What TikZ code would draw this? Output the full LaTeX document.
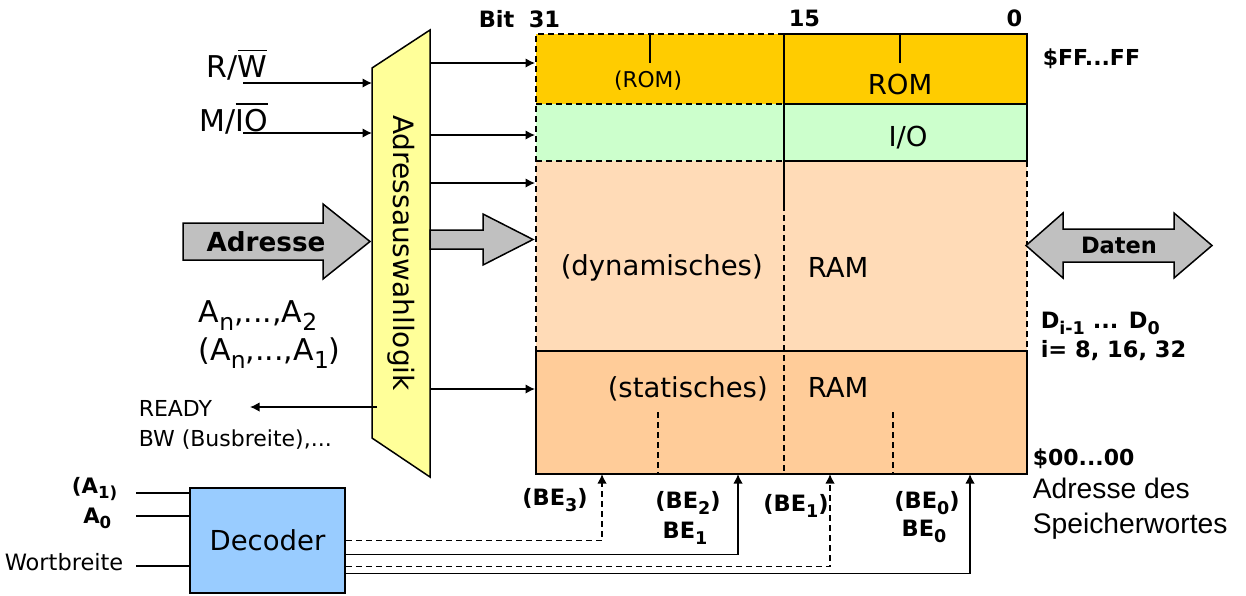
\documentclass[tikz,border=0pt]{standalone}
\usepackage{fontspec}
\setmainfont{DejaVu Sans}
\newfontfamily\arialfont{Liberation Sans}
\usetikzlibrary{arrows.meta}

\definecolor{romcol}{HTML}{FFCC00}
\definecolor{iocol}{HTML}{CCFFCC}
\definecolor{dramcol}{HTML}{FFDBB7}
\definecolor{sramcol}{HTML}{FFCC99}
\definecolor{logiccol}{HTML}{FFFF99}
\definecolor{deccol}{HTML}{99CCFF}
\definecolor{fatcol}{HTML}{C0C0C0}

\newcommand{\fs}[1]{\fontsize{#1}{#1}\selectfont}
\newcommand{\ovl}[1]{\leavevmode\vbox{\hrule height 0.6pt\kern1.6pt\hbox{#1}}}
\newcommand{\sub}[1]{\raisebox{-0.5ex}{\scalebox{0.78}{#1}}}

\begin{document}
\begin{tikzpicture}[x=0.4pt,y=-0.4pt,line width=0.6pt,
  sig/.style={-{Latex[length=3.8pt,width=3.8pt]}},
  dsh/.style={dash pattern=on 2.4pt off 1.6pt},
  fatarrow/.style={draw,fill=fatcol},
  txt/.style={inner sep=0pt,font=\fs{11pt}},
  big/.style={inner sep=0pt,font=\fs{12pt}},
  bld/.style={inner sep=0pt,font=\fs{9pt}\bfseries},
  decoder/.style={draw,fill=deccol,minimum width=62pt,minimum height=42pt,inner sep=0pt,font=\fs{11pt}}]

\useasboundingbox (0,0) rectangle (1246,595);

% memory areas
\fill[romcol] (536,34) rectangle (1027,104);
\fill[iocol] (536,104) rectangle (1027,161);
\fill[dramcol] (536,161) rectangle (1027,351);
\fill[sramcol] (536,351) rectangle (1027,474);
\draw[dsh] (784,34) -- (536,34) -- (536,351);
\draw[dsh] (536,104) -- (784,104);
\draw[dsh] (536,161) -- (784,161);
\draw (784,34) rectangle (1027,161);
\draw (784,104) -- (1027,104);
\draw[dsh] (1027,161) -- (1027,351);
\draw (536,351) rectangle (1027,474);
\draw (784,34) -- (784,205);
\draw[dsh] (784,205) -- (784,474);
\draw (650,34) -- (650,63);
\draw (900,34) -- (900,63);
\draw[dsh] (658,412) -- (658,474);
\draw[dsh] (893,412) -- (893,474);

\node[txt,font=\fs{8.7pt},anchor=base] (romlo) at (648,87) {(ROM)};
\node[txt,anchor=base] (romhi) at (900,94) {ROM};
\node[txt,anchor=base] (io) at (908,146) {I/O};
\node[txt,anchor=base west] (dyn) at (560,275) {(dynamisches)};
\node[txt,anchor=base west] (dynram) at (807,277) {RAM};
\node[txt,anchor=base west] (stat) at (607,397) {(statisches)};
\node[txt,anchor=base west] (statram) at (807,397) {RAM};

% bit numbers and addresses
\node[bld,anchor=base west] (bit) at (478,27) {Bit};
\node[bld,anchor=base west] (b31) at (528,27) {31};
\node[bld,anchor=base west] (b15) at (788,26) {15};
\node[bld,anchor=base east] (b0) at (1023,26) {0};
\node[bld,font=\fs{8.8pt}\bfseries,anchor=base west] (top) at (1042,65) {\$FF...FF};
\node[bld,font=\fs{8.8pt}\bfseries,anchor=base west] (bottom) at (1032,465) {\$00...00};
\node[inner sep=0pt,font=\arialfont\fs{11.3pt},anchor=base west] (wort1) at (1032,498) {Adresse des};
\node[inner sep=0pt,font=\arialfont\fs{11.3pt},anchor=base west] (wort2) at (1032,533) {Speicherwortes};

% data bus
\draw[fatarrow] (1026,245.5) -- (1063,213) -- (1063,229) -- (1174,229) -- (1174,213) -- (1212,245.5)
  -- (1174,278) -- (1174,262) -- (1063,262) -- (1063,278) -- cycle;
\node[bld] (daten) at (1119,245.5) {Daten};
\node[bld,anchor=base west] (di) at (1040,328) {D\sub{i-1} ... D\sub{0}};
\node[bld,anchor=base west] (iw) at (1040,357) {i= 8, 16, 32};

% address selection logic
\draw[fill=logiccol] (372,68) -- (430,30) -- (430,477) -- (372,438) -- cycle;
\node[inner sep=0pt,font=\fs{11.2pt},rotate=-90] (logic) at (401,253) {Adressauswahllogik};
\coordinate (lgl) at (372,0);

\node[big,anchor=base west] (rw) at (206,77) {R/\ovl{W}};
\node[big,anchor=base west] (mio) at (199,131) {M/\ovl{IO}};
\coordinate (rwin) at (243,83);
\coordinate (mioin) at (243,133);
\draw[sig] (rwin) -- (rwin -| lgl);
\draw[sig] (mioin) -- (mioin -| lgl);

\foreach \y [count=\i] in {63,135,183,389} {
  \coordinate (out\i) at (430,\y);
  \coordinate (in\i) at (535,\y);
  \draw[sig] (out\i) -- (in\i);
}

\draw[fatarrow] (183,223) -- (323,223) -- (323,204) -- (370,241.5) -- (323,279) -- (323,260) -- (183,260) -- cycle;
\node[bld,font=\fs{10.5pt}\bfseries] (adr) at (266,242) {Adresse};
\draw[fatarrow] (430,230) -- (483,230) -- (483,214) -- (533,239.5) -- (483,265) -- (483,249) -- (430,249) -- cycle;

\node[big,anchor=base west] (an2) at (198,322) {A\sub{n},...,A\sub{2}};
\node[big,anchor=base west] (an1) at (198,360) {(A\sub{n},...,A\sub{1})};

\coordinate (rdy) at (377,407);
\coordinate (rdyend) at (250,407);
\draw[sig] (rdy) -- (rdyend);
\node[txt,font=\fs{8.8pt},anchor=base west] (ready) at (138,416) {READY};
\node[txt,font=\fs{8.8pt},anchor=base west] (bw) at (138,446) {BW (Busbreite),...};

% decoder
\node[decoder] (dec) at (267.5,540.5) {Decoder};
\coordinate (a1in) at (136,493);
\coordinate (a0in) at (136,516);
\coordinate (wbin) at (136,566);
\draw (a1in) -- (a1in -| dec.west);
\draw (a0in) -- (a0in -| dec.west);
\draw (wbin) -- (wbin -| dec.west);
\node[bld,font=\fs{8.5pt}\bfseries,anchor=base east] (a1) at (118,493) {(A\sub{1)}};
\node[bld,font=\fs{8.5pt}\bfseries,anchor=base east] (a0) at (112,523) {A\sub{0}};
\node[txt,font=\fs{9pt},anchor=base west] (wb) at (4,570) {Wortbreite};

\coordinate (be3) at (602,474);
\coordinate (be2) at (738,474);
\coordinate (be1) at (830,474);
\coordinate (be0) at (970,474);
\draw[sig,dsh] (dec.east) -| (be3);
\draw[sig] ([yshift=-5.6pt]dec.east) -| (be2);
\draw[sig,dsh] ([yshift=-10.4pt]dec.east) -| (be1);
\draw[sig] ([yshift=-13.2pt]dec.east) -| (be0);

\node[bld,anchor=base] (lbe3) at (555,505) {(BE\sub{3})};
\node[bld,anchor=base] (lbe2) at (688,508) {(BE\sub{2})};
\node[bld,anchor=base] (lbe1) at (685,538) {BE\sub{1}};
\node[bld,anchor=base] (lbe1b) at (796,511) {(BE\sub{1})};
\node[bld,anchor=base] (lbe0) at (927,508) {(BE\sub{0})};
\node[bld,anchor=base] (lbe0b) at (924,536) {BE\sub{0}};

\end{tikzpicture}
\end{document}
